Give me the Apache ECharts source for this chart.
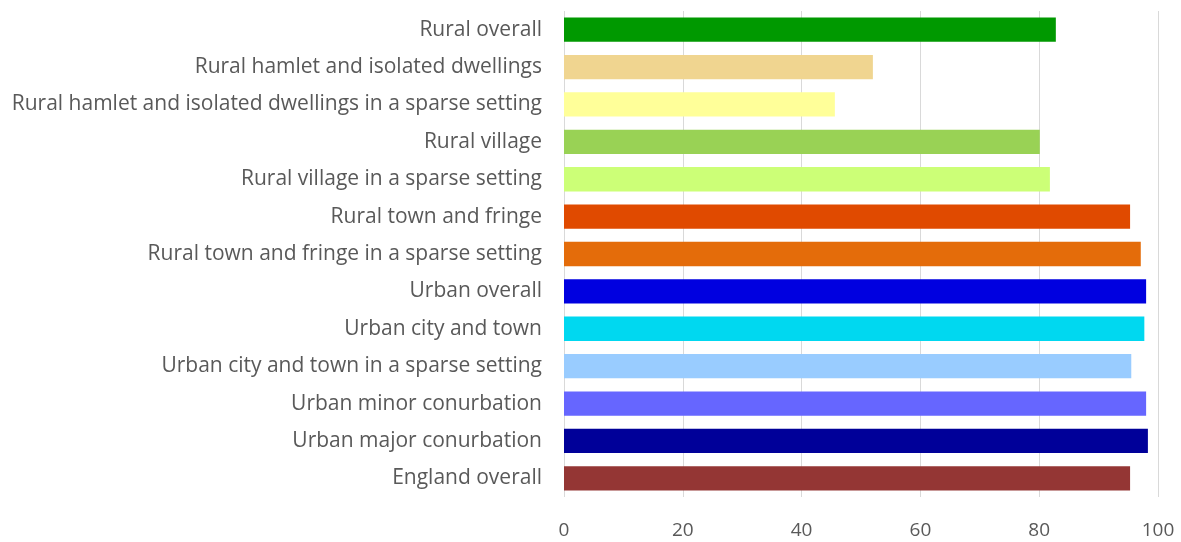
<!DOCTYPE html>
<html>
<head>
<meta charset="utf-8">
<script src="https://cdn.jsdelivr.net/npm/echarts@6/dist/echarts.min.js"></script>
<style>
  html, body { margin: 0; padding: 0; background: #fff; }
  #chart { width: 1181px; height: 542px; }
</style>
</head>
<body>
<div id="chart"></div>
<script>
// categories, top to bottom
var categories = [
  "Rural overall",
  "Rural hamlet and isolated dwellings",
  "Rural hamlet and isolated dwellings in a sparse setting",
  "Rural village",
  "Rural village in a sparse setting",
  "Rural town and fringe",
  "Rural town and fringe in a sparse setting",
  "Urban overall",
  "Urban city and town",
  "Urban city and town in a sparse setting",
  "Urban minor conurbation",
  "Urban major conurbation",
  "England overall"
];
var values = [82.8, 52.0, 45.6, 80.1, 81.8, 95.3, 97.1, 98.0, 97.7, 95.5, 98.0, 98.3, 95.3];
var barColors = [
  "#009900", "#F0D590", "#FFFF99", "#99D255", "#CCFF77", "#E04A00", "#E46C0A",
  "#0000E0", "#00D8F0", "#99CCFF", "#6666FF", "#000099", "#943634"
];
var xTicks = [0, 20, 40, 60, 80, 100];

(function() {
  var myChart = echarts.init(document.getElementById("chart"));
  var font = "'Open Sans', 'Liberation Sans', sans-serif";
  var option = {
    animation: false,
    grid: { left: 564, right: 23, top: 11, bottom: 45 },
    xAxis: {
      type: "value",
      min: xTicks[0],
      max: xTicks[xTicks.length - 1],
      interval: xTicks[1] - xTicks[0],
      axisLine: { show: false },
      axisTick: { show: false },
      splitLine: { show: true, lineStyle: { color: "#d9d9d9", width: 1 } },
      axisLabel: { color: "#595959", fontSize: 19, fontFamily: font, margin: 24 }
    },
    yAxis: {
      type: "category",
      inverse: true,
      data: categories,
      axisLine: { show: false },
      axisTick: { show: false },
      axisLabel: { color: "#595959", fontSize: 21, fontFamily: font, margin: 22 }
    },
    series: [
      {
        type: "bar",
        barCategoryGap: "35%",
        data: values.map(function(v, i) {
          return { value: v, itemStyle: { color: barColors[i] } };
        })
      }
    ]
  };
  myChart.setOption(option);
})();
</script>
</body>
</html>
